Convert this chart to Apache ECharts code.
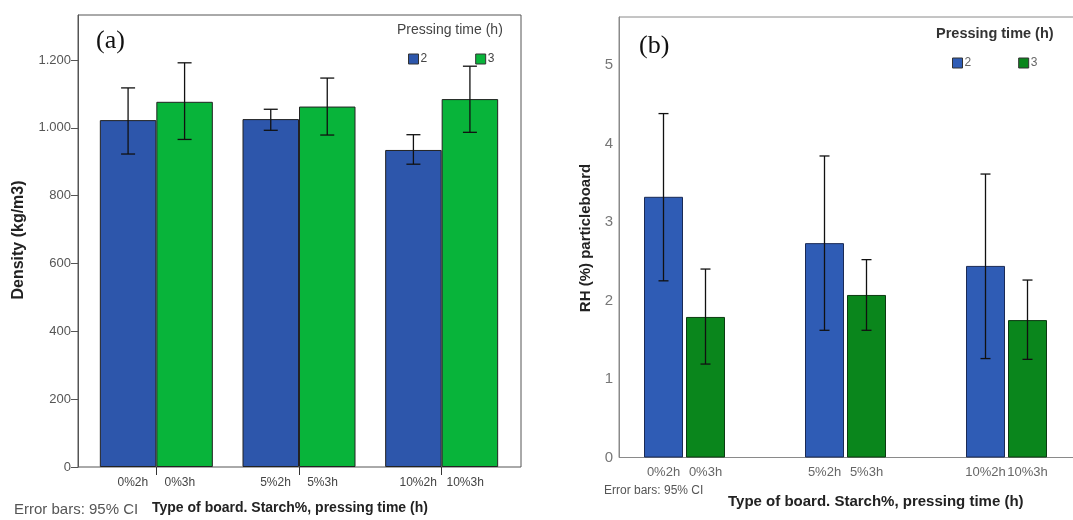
<!DOCTYPE html>
<html><head><meta charset="utf-8">
<script src="https://cdn.jsdelivr.net/npm/echarts@6/dist/echarts.min.js"></script>
<style>html,body{margin:0;padding:0;background:#fff}#c{width:1073px;height:520px}</style>
</head><body><div id="c"></div>
<script>
// ---------- data ----------
const categories = ['0%', '5%', '10%'];
const labels2h = ['0%2h', '5%2h', '10%2h'];
const labels3h = ['0%3h', '5%3h', '10%3h'];
const seriesNames = ['2', '3'];

// (a) Density (kg/m3)
const densityMean2h = [1023, 1026, 935];
const densityLow2h  = [923, 993, 893];
const densityHigh2h = [1118, 1055, 980];
const densityMean3h = [1077, 1063, 1085];
const densityLow3h  = [966, 979, 987];
const densityHigh3h = [1192, 1147, 1182];
const densityTicks  = [0, 200, 400, 600, 800, 1000, 1200];

// (b) RH (%) particleboard
const rhMean2h = [3.32, 2.73, 2.44];
const rhLow2h  = [2.25, 1.62, 1.26];
const rhHigh2h = [4.38, 3.84, 3.61];
const rhMean3h = [1.79, 2.07, 1.75];
const rhLow3h  = [1.19, 1.62, 1.25];
const rhHigh3h = [2.40, 2.52, 2.26];
const rhTicks  = [0, 1, 2, 3, 4, 5];

// ---------- styles ----------
const blueA = '#2d56ab', greenA = '#08b43a';
const blueB = '#2f5cb5', greenB = '#0a861c';
const FONT = 'Liberation Sans, Arial, sans-serif';

function errSeries(xi, yi, low, high, offset, cap, color, lw) {
  return {
    type: 'custom', xAxisIndex: xi, yAxisIndex: yi, silent: true, z: 10,
    data: low.map((l, i) => [i, l, high[i]]),
    renderItem: (params, api) => {
      const lo = api.coord([api.value(0), api.value(1)]);
      const hi = api.coord([api.value(0), api.value(2)]);
      const x = lo[0] + offset;
      const st = { stroke: color, lineWidth: lw };
      return { type: 'group', children: [
        { type: 'line', shape: { x1: x, y1: lo[1], x2: x, y2: hi[1] }, style: st },
        { type: 'line', shape: { x1: x - cap / 2, y1: lo[1], x2: x + cap / 2, y2: lo[1] }, style: st },
        { type: 'line', shape: { x1: x - cap / 2, y1: hi[1], x2: x + cap / 2, y2: hi[1] }, style: st }
      ]};
    }
  };
}

const barWA = 56.5, barWB = 39, gapB = 3;

const option = {
  animation: false,
  backgroundColor: '#fff',
  textStyle: { fontFamily: FONT },
  grid: [
    { left: 78, top: 15, width: 443, height: 452, outerBoundsMode: 'none', show: true, borderColor: '#555', borderWidth: 1, backgroundColor: 'transparent' },
    { left: 85, top: 15, width: 428, height: 452, outerBoundsMode: 'none' },
    { left: 619, top: 17, width: 462, height: 440.5, outerBoundsMode: 'none', show: true, borderColor: '#8a8a8a', borderWidth: 1, backgroundColor: 'transparent' },
    { left: 604, top: 17, width: 483, height: 440.5, outerBoundsMode: 'none' }
  ],
  xAxis: [
    { gridIndex: 0, type: 'value', min: 0, max: 1, show: false },
    { gridIndex: 1, type: 'category', data: categories,
      axisLine: { show: false },
      axisTick: { show: true, alignWithLabel: true, length: 8, lineStyle: { color: '#333' } },
      axisLabel: { margin: 10, interval: 0,
        formatter: (v, i) => '{a|' + labels2h[i] + '}{b|' + labels3h[i] + '}',
        rich: {
          a: { width: 45, align: 'right', padding: [0, 2, 0, 0], fontSize: 12, color: '#444', fontFamily: FONT },
          b: { width: 45, align: 'left', padding: [0, 0, 0, 0], fontSize: 12, color: '#444', fontFamily: FONT }
        } } },
    { gridIndex: 2, type: 'value', min: 0, max: 1, show: false },
    { gridIndex: 3, type: 'category', data: categories,
      axisLine: { show: false }, axisTick: { show: false },
      axisLabel: { margin: 8, interval: 0,
        formatter: (v, i) => '{a|' + labels2h[i] + '}{b|' + labels3h[i] + '}',
        rich: {
          a: { width: 42, align: 'center', fontSize: 13, color: '#666', fontFamily: FONT },
          b: { width: 42, align: 'center', fontSize: 13, color: '#666', fontFamily: FONT }
        } } }
  ],
  yAxis: [
    { gridIndex: 0, type: 'value', min: 0, max: 1333,
      axisLine: { show: true, lineStyle: { color: '#555' } },
      axisTick: { show: true, length: 7, customValues: densityTicks, lineStyle: { color: '#555' } },
      axisLabel: { customValues: densityTicks, margin: 7, fontSize: 13, color: '#555',
        formatter: v => v >= 1000 ? Math.floor(v / 1000) + '.' + String(v % 1000).padStart(3, '0') : String(v) },
      splitLine: { show: false } },
    { gridIndex: 1, type: 'value', min: 0, max: 1333, show: false, splitLine: { show: false } },
    { gridIndex: 2, type: 'value', min: 0, max: 5.61,
      axisLine: { show: true, lineStyle: { color: '#8a8a8a' } },
      axisTick: { show: false },
      axisLabel: { customValues: rhTicks, margin: 6, fontSize: 15, color: '#777' },
      splitLine: { show: false } },
    { gridIndex: 3, type: 'value', min: 0, max: 5.61, show: false, splitLine: { show: false } }
  ],
  legend: [
    { left: 403, top: 48, itemWidth: 10, itemHeight: 10, itemGap: 48, icon: 'rect', selectedMode: false,
      textStyle: { fontSize: 12, color: '#444', fontFamily: FONT, padding: [0, 0, 0, -3] },
      data: [{ name: seriesNames[0], itemStyle: { color: blueA, borderColor: '#333', borderWidth: 1 } },
             { name: seriesNames[1], itemStyle: { color: greenA, borderColor: '#333', borderWidth: 1 } }] },
    { left: 947, top: 52, itemWidth: 10, itemHeight: 10, itemGap: 47, icon: 'rect', selectedMode: false,
      textStyle: { fontSize: 12, color: '#666', fontFamily: FONT, padding: [0, 0, 0, -3] },
      data: [{ name: seriesNames[0], itemStyle: { color: blueB, borderColor: '#333', borderWidth: 1 } },
             { name: seriesNames[1], itemStyle: { color: greenB, borderColor: '#333', borderWidth: 1 } }] }
  ],
  series: [
    { name: seriesNames[0], type: 'bar', xAxisIndex: 1, yAxisIndex: 1, data: densityMean2h, barWidth: barWA, barGap: '0%',
      itemStyle: { color: blueA, borderColor: '#222', borderWidth: 1 } },
    { name: seriesNames[1], type: 'bar', xAxisIndex: 1, yAxisIndex: 1, data: densityMean3h, barWidth: barWA, barGap: '0%',
      itemStyle: { color: greenA, borderColor: '#222', borderWidth: 1 } },
    errSeries(1, 1, densityLow2h, densityHigh2h, -barWA / 2, 14, '#111', 1.3),
    errSeries(1, 1, densityLow3h, densityHigh3h, barWA / 2, 14, '#111', 1.3),
    { name: seriesNames[0], type: 'bar', xAxisIndex: 3, yAxisIndex: 3, data: rhMean2h, barWidth: barWB, barGap: (gapB / barWB * 100) + '%',
      itemStyle: { color: blueB, borderColor: '#1a2a55', borderWidth: 1 } },
    { name: seriesNames[1], type: 'bar', xAxisIndex: 3, yAxisIndex: 3, data: rhMean3h, barWidth: barWB, barGap: (gapB / barWB * 100) + '%',
      itemStyle: { color: greenB, borderColor: '#0c3a12', borderWidth: 1 } },
    errSeries(3, 3, rhLow2h, rhHigh2h, -(barWB + gapB) / 2, 10, '#111', 1.3),
    errSeries(3, 3, rhLow3h, rhHigh3h, (barWB + gapB) / 2, 10, '#111', 1.3)
  ],
  graphic: [
    { type: 'text', left: 96, top: 28, style: { text: '(a)', font: '26px "Liberation Serif", serif', fill: '#111' } },
    { type: 'text', left: 639, top: 33, style: { text: '(b)', font: '26px "Liberation Serif", serif', fill: '#111' } },
    { type: 'text', left: 397, top: 23, style: { text: 'Pressing time (h)', font: '14px ' + FONT, fill: '#444' } },
    { type: 'text', left: 936, top: 26, style: { text: 'Pressing time (h)', font: 'bold 14.5px ' + FONT, fill: '#333' } },
    { type: 'text', x: 19, y: 240, rotation: Math.PI / 2,
      style: { text: 'Density (kg/m3)', font: 'bold 16px ' + FONT, fill: '#222', align: 'center', verticalAlign: 'middle' } },
    { type: 'text', x: 586, y: 238, rotation: Math.PI / 2,
      style: { text: 'RH (%) particleboard', font: 'bold 15px ' + FONT, fill: '#222', align: 'center', verticalAlign: 'middle' } },
    { type: 'text', left: 14, top: 502, style: { text: 'Error bars: 95% CI', font: '15px ' + FONT, fill: '#555' } },
    { type: 'text', left: 152, top: 501, style: { text: 'Type of board. Starch%, pressing time (h)', font: 'bold 14px ' + FONT, fill: '#222' } },
    { type: 'text', left: 604, top: 485, style: { text: 'Error bars: 95% CI', font: '12px ' + FONT, fill: '#555' } },
    { type: 'text', left: 728, top: 494, style: { text: 'Type of board. Starch%, pressing time (h)', font: 'bold 15px ' + FONT, fill: '#222' } }
  ]
};

const chart = echarts.init(document.getElementById('c'), null, { renderer: 'canvas' });
chart.setOption(option);
</script>
</body></html>
